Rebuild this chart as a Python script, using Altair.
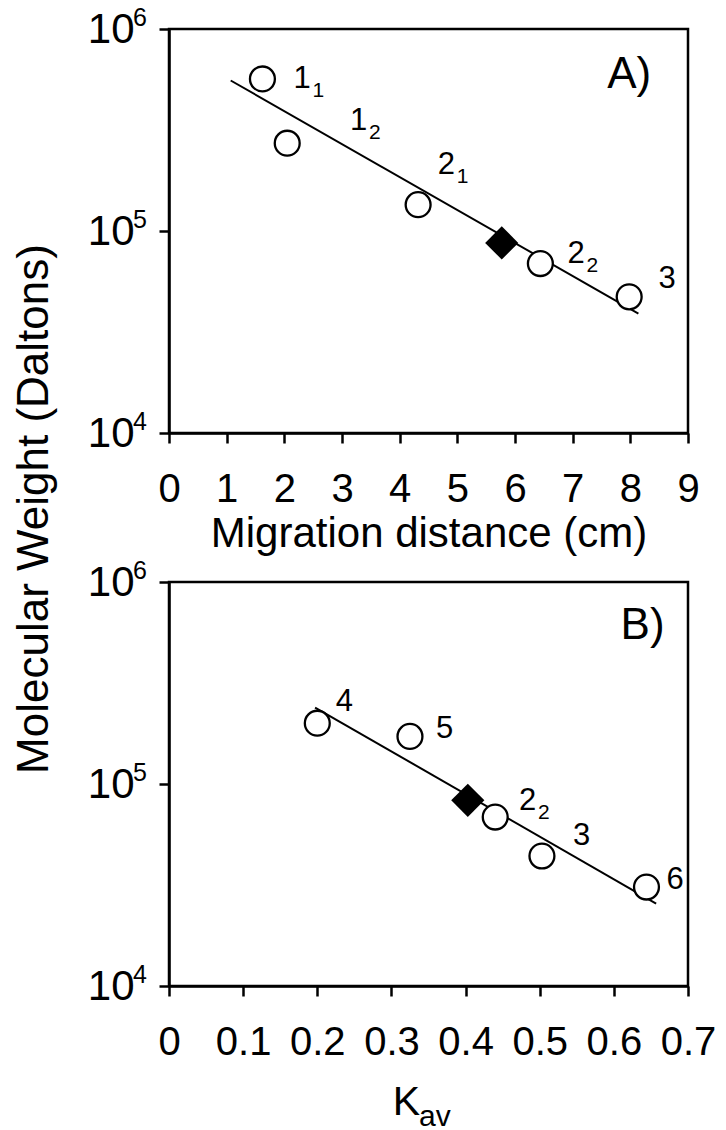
import altair as alt
import pandas as pd

FONT = "Liberation Sans"

# ---------------- Panel A data ----------------
a_std_x = [1.62, 2.05, 4.32, 6.44, 7.98]
a_std_y = [566000, 272000, 135000, 69000, 47200]
a_unk_x = [5.77]
a_unk_y = [87300]
a_fit_x = [1.07, 8.14]
a_fit_y = [556000, 39000]
a_lab_main = ["1", "1", "2", "2", "3"]
a_lab_sub = ["1", "2", "1", "2", ""]
a_lab_x = [2.16, 3.14, 4.66, 6.91, 8.49]
a_lab_y = [566000, 352000, 211000, 77300, 58100]
a_tag = ["A)"]
a_tag_x = [7.6]
a_tag_y = [589000]
a_xticks = [0, 1, 2, 3, 4, 5, 6, 7, 8, 9]

# ---------------- Panel B data ----------------
b_std_x = [0.2, 0.325, 0.44, 0.503, 0.644]
b_std_y = [200000, 172000, 68600, 44000, 30900]
b_unk_x = [0.403]
b_unk_y = [83000]
b_fit_x = [0.197, 0.657]
b_fit_y = [239000, 25600]
b_lab_main = ["4", "5", "2", "3", "6"]
b_lab_sub = ["", "", "2", "", ""]
b_lab_x = [0.225, 0.36, 0.472, 0.545, 0.671]
b_lab_y = [254000, 188000, 82300, 55000, 33500]
b_tag = ["B)"]
b_tag_x = [0.609]
b_tag_y = [604000]
b_xticks = [0, 0.1, 0.2, 0.3, 0.4, 0.5, 0.6, 0.7]

# ---------------- shared ----------------
y_ticks = [1e4, 1e5, 1e6]
y_exp = ["4", "5", "6"]

W, H = 519, 404
LBL = 40
VIEW = alt.ViewBackground(stroke="black", strokeWidth=2.5)


def panel(std_x, std_y, unk_x, unk_y, fit_x, fit_y, lab_main, lab_sub, lab_x, lab_y,
          tag, tag_x, tag_y, xticks, xdomain, xfmt, xtitle):
    xs = alt.Scale(domain=xdomain, nice=False, zero=False)
    ys = alt.Scale(type="log", domain=[1e4, 1e6], nice=False)
    xaxis = alt.Axis(values=xticks, format=xfmt, title=xtitle, grid=False,
                     labelFontSize=LBL, labelFont=FONT, labelColor="black",
                     labelPadding=26, tickSize=10, tickWidth=2.5, tickColor="black",
                     domainWidth=2.5, domainColor="black",
                     titleFont=FONT, titleFontSize=42, titleFontWeight="normal",
                     titleColor="black", titlePadding=4, labelFlush=False,
                     labelOverlap=False)
    yaxis = alt.Axis(values=y_ticks, labelExpr="'10'", title=None, grid=False,
                     labelFontSize=42, labelFont=FONT, labelColor="black",
                     labelPadding=25, tickSize=10, tickWidth=2.5, tickColor="black",
                     domainWidth=2.5, domainColor="black", labelFlush=False,
                     labelOverlap=False)

    std = pd.DataFrame({"x": std_x, "y": std_y})
    unk = pd.DataFrame({"x": unk_x, "y": unk_y})
    fit = pd.DataFrame({"x": fit_x, "y": fit_y})
    labs = pd.DataFrame({"x": lab_x, "y": lab_y, "main": lab_main, "sub": lab_sub})
    tg = pd.DataFrame({"x": tag_x, "y": tag_y, "t": tag})
    yt = pd.DataFrame({"y": y_ticks, "e": y_exp})

    line = alt.Chart(fit).mark_line(color="black", strokeWidth=2).encode(
        x=alt.X("x:Q", scale=xs, axis=xaxis), y=alt.Y("y:Q", scale=ys, axis=yaxis))
    circ = alt.Chart(std).mark_point(shape="circle", size=620, filled=True,
                                     fill="white", stroke="black", strokeWidth=2.3,
                                     opacity=1).encode(
        x=alt.X("x:Q", scale=xs), y=alt.Y("y:Q", scale=ys))
    dia = alt.Chart(unk).mark_point(shape="diamond", size=1100, filled=True,
                                    color="black", opacity=1).encode(
        x=alt.X("x:Q", scale=xs), y=alt.Y("y:Q", scale=ys))
    main_t = alt.Chart(labs).mark_text(align="left", baseline="middle", fontSize=31,
                                       font=FONT, color="black").encode(
        x=alt.X("x:Q", scale=xs), y=alt.Y("y:Q", scale=ys), text="main:N")
    sub_t = alt.Chart(labs).mark_text(align="left", baseline="middle", fontSize=21,
                                      font=FONT, color="black", dx=19, dy=12).encode(
        x=alt.X("x:Q", scale=xs), y=alt.Y("y:Q", scale=ys), text="sub:N")
    tag_t = alt.Chart(tg).mark_text(align="left", baseline="middle", fontSize=44,
                                    font=FONT, color="black").encode(
        x=alt.X("x:Q", scale=xs), y=alt.Y("y:Q", scale=ys), text="t:N")
    sup_t = alt.Chart(yt).mark_text(align="left", baseline="middle", fontSize=25,
                                    font=FONT, color="black", dy=-11).encode(
        x=alt.value(-36), y=alt.Y("y:Q", scale=ys), text="e:N")
    return alt.layer(line, circ, dia, main_t, sub_t, tag_t, sup_t).properties(
        width=W, height=H)


pa = panel(a_std_x, a_std_y, a_unk_x, a_unk_y, a_fit_x, a_fit_y, a_lab_main, a_lab_sub,
           a_lab_x, a_lab_y, a_tag, a_tag_x, a_tag_y, a_xticks, [0, 9], "d",
           "Migration distance (cm)")

ytitle = alt.Chart(pd.DataFrame({"t": ["Molecular Weight (Daltons)"]})).mark_text(
    angle=270, fontSize=44, font=FONT, color="black", align="center",
    baseline="middle").encode(x=alt.value(-134), y=alt.value(480), text="t:N")
pa = alt.layer(pa, ytitle).properties(view=VIEW)

pb = panel(b_std_x, b_std_y, b_unk_x, b_unk_y, b_fit_x, b_fit_y, b_lab_main, b_lab_sub,
           b_lab_x, b_lab_y, b_tag, b_tag_x, b_tag_y, b_xticks, [0, 0.7], ".1~f", None)

kav_df = pd.DataFrame({"t": ["K"], "s": ["av"]})
kav = alt.Chart(kav_df).mark_text(
    fontSize=41, font=FONT, color="black", align="right", baseline="middle").encode(
    x=alt.value(251), y=alt.value(H + 117), text="t:N")
kav_sub = alt.Chart(kav_df).mark_text(
    fontSize=30, font=FONT, color="black", align="left", baseline="middle").encode(
    x=alt.value(250), y=alt.value(H + 131), text="s:N")
pb = alt.layer(pb, kav, kav_sub).properties(view=VIEW)

chart = alt.vconcat(pa, pb, spacing=149).properties(
    bounds="flush",
    padding={"left": 11, "top": 4, "right": 0, "bottom": 0},
).configure_view(stroke="black", strokeWidth=2.5).configure(background="white")

chart.save("out.html", embed_options={"renderer": "svg", "actions": False})
